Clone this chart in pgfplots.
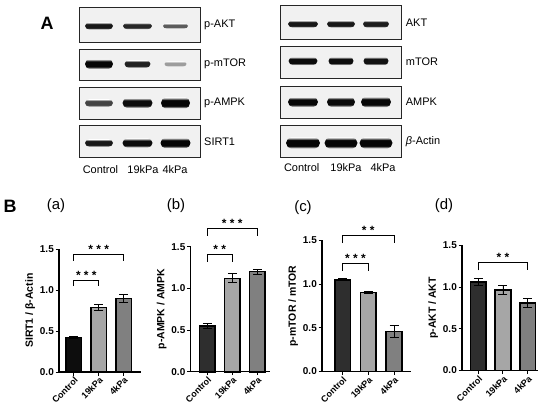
\documentclass[border=0pt]{standalone}
\usepackage{pgfplots}
\pgfplotsset{compat=1.18}
\usepackage{fontspec}
\setmainfont{Liberation Sans}
\definecolor{cblack}{HTML}{0D0D0D}
\definecolor{cdark}{HTML}{2E2E2E}
\definecolor{clight}{HTML}{A6A6A6}
\definecolor{cmid}{HTML}{808080}
\definecolor{bgcol}{HTML}{F1F1F1}
\colorlet{bandcol}{black}
\pgfdeclareverticalshading[bandcol,bgcol]{bandv}{100bp}{color(0bp)=(bgcol); color(25bp)=(bgcol); color(37bp)=(bandcol); color(63bp)=(bandcol); color(75bp)=(bgcol); color(100bp)=(bgcol)}

\pgfplotsset{
 barpanel/.style={
  scale only axis, anchor=south west, clip=false,
  axis x line=bottom, axis y line=left,
  axis line style={-, line width=1.2bp},
  ymin=0, ymax=1.5,
  ytick={0,0.5,1,1.5}, yticklabels={0.0,0.5,1.0,1.5},
  xtick={0,1,2}, xticklabels={Control,19kPa,4kPa},
  major tick length=3.5bp,
  every tick/.style={black, line width=1bp},
  tick align=outside,
  yticklabel style={font=\fontsize{10}{11}\bfseries\selectfont, inner sep=1.5bp},
  xticklabel style={font=\fontsize{9}{10}\bfseries\selectfont, rotate=45, anchor=north east, inner sep=0.5bp},
  ylabel style={font=\fontsize{10.5}{11}\bfseries\selectfont},
  ybar,
  every axis plot/.append style={bar shift=0pt, bar width=15.5bp, draw=black, line width=1.6bp,
    error bars/y dir=both, error bars/y explicit,
    error bars/error bar style={line width=0.9bp, black},
    error bars/error mark options={rotate=90, mark size=4.5bp, line width=0.9bp, black}},
 },
}
\tikzset{stars/.style={anchor=base, font=\fontsize{12}{13}\bfseries\selectfont, inner sep=0pt, yshift=0.8bp}}

\newcommand{\bracket}[4]{% x1, x2, top, leg
  \draw[line width=0.9bp] (axis cs:#1,#4) -- (axis cs:#1,#3) -- (axis cs:#2,#3) -- (axis cs:#2,#4);}

\begin{document}
\begin{tikzpicture}
\useasboundingbox (0,0) rectangle (550bp,410bp);

\begin{scope}[x=1bp, y=-1bp, shift={(0,410bp)}]
 % left blots
 \foreach \ya/\yb in {7.3/42.7, 49/80.7, 87.3/119, 125.3/157.3}
   \draw[line width=0.9bp, draw=black!85, fill=bgcol] (79.3,\ya) rectangle (200,\yb);
 % right blots
 \foreach \ya/\yb in {5/39.3, 46.7/78.3, 86/118.3, 125.7/157.7}
   \draw[line width=0.9bp, draw=black!85, fill=bgcol] (280,\ya) rectangle (401,\yb);
 % bands: x / y / half-width / half-height / intensity
 \foreach \x/\y/\w/\h/\i in {
   99/26/14/3.6/90, 137.5/26/14.5/3.3/84, 175.5/26/12.5/2.6/62,
   99/64/14/5/98, 137.5/64/13/3.8/86, 175.5/64/11/2.6/35,
   99/103/14/3.8/72, 137.5/103/15/5/95, 175.5/103/14.5/5.5/98,
   99/143/14/3.8/90, 137.5/143/15/4.6/95, 175.5/143/15/5.2/98,
   303/24/15/3.6/90, 341/24/14/3.6/90, 376/24/13/3.6/88,
   303/61/14.5/4.2/95, 341/61/12.5/4.2/94, 376/61/12.5/4.2/92,
   303/102/15/5/97, 341/102/14/5/96, 376/102/15/5.3/97,
   303/143/17/5.6/98, 341/143/16.5/5.6/98, 376/143/16.5/5.6/98} {
   \colorlet{bandcol}{black!\i!bgcol}
   \shade[shading=bandv] (\x-\w,\y) to[out=75,in=180] (\x-0.7*\w,\y-\h) -- (\x+0.7*\w,\y-\h)
      to[out=0,in=105] (\x+\w,\y) to[out=-105,in=0] (\x+0.7*\w,\y+\h) -- (\x-0.7*\w,\y+\h)
      to[out=180,in=-75] cycle;
 }
 \begin{scope}[font=\fontsize{11}{13}\selectfont]
  \node[anchor=west, inner sep=0pt] at (204,25) {p-AKT};
  \node[anchor=west, inner sep=0pt] at (204,64) {p-mTOR};
  \node[anchor=west, inner sep=0pt] at (204,103) {p-AMPK};
  \node[anchor=west, inner sep=0pt] at (204,142) {SIRT1};
  \node[anchor=west, inner sep=0pt] at (405.7,23) {AKT};
  \node[anchor=west, inner sep=0pt] at (405.7,62) {mTOR};
  \node[anchor=west, inner sep=0pt] at (405.7,102) {AMPK};
  \node[anchor=west, inner sep=0pt] at (405.7,142) {{\itshape β}-Actin};
  \node at (100.5,170) {Control};
  \node at (143,170) {19kPa};
  \node at (175,170) {4kPa};
  \node at (301.7,168) {Control};
  \node at (346,168) {19kPa};
  \node at (383,168) {4kPa};
 \end{scope}
 \node[font=\fontsize{18}{20}\bfseries\selectfont] at (47,23) {A};
 \node[font=\fontsize{18}{20}\bfseries\selectfont] at (10,206) {B};
 \node[font=\fontsize{15}{17}\selectfont] at (56,206) {(a)};
 \node[font=\fontsize{15}{17}\selectfont] at (176,206) {(b)};
 \node[font=\fontsize{15}{17}\selectfont] at (303,208) {(c)};
 \node[font=\fontsize{15}{17}\selectfont] at (444,206) {(d)};
\end{scope}

% (a)
\begin{axis}[barpanel, at={(59bp,38bp)}, width=82bp, height=122.7bp,
  xmin=-0.6, xmax=2.7, ylabel={SIRT1 / β-Actin}]
 \addplot[fill=cblack] coordinates {(0,0.42) +- (0,0.012)};
 \addplot[fill=clight] coordinates {(1,0.79) +- (0,0.04)};
 \addplot[fill=cmid] coordinates {(2,0.90) +- (0,0.05)};
 \bracket{0}{1}{1.12}{1.05}
 \node[stars] at (axis cs:0.5,1.12) {* * *};
 \bracket{0}{2}{1.44}{1.36}
 \node[stars] at (axis cs:1,1.44) {* * *};
\end{axis}

% (b)
\begin{axis}[barpanel, at={(190.5bp,38.3bp)}, width=79.5bp, height=125bp,
  xmin=-0.67, xmax=2.51, ylabel={p-AMPK / AMPK}]
 \addplot[fill=cdark] coordinates {(0,0.55) +- (0,0.03)};
 \addplot[fill=clight] coordinates {(1,1.12) +- (0,0.055)};
 \addplot[fill=cmid] coordinates {(2,1.20) +- (0,0.03)};
 \bracket{0}{1}{1.408}{1.32}
 \node[stars] at (axis cs:0.5,1.408) {* *};
 \bracket{0}{2}{1.72}{1.632}
 \node[stars] at (axis cs:1,1.72) {* * *};
\end{axis}

% (c)
\begin{axis}[barpanel, at={(322bp,38.5bp)}, width=89bp, height=131bp,
  xmin=-0.8, xmax=2.66, ylabel={p-mTOR / mTOR}]
 \addplot[fill=cdark] coordinates {(0,1.05) +- (0,0.012)};
 \addplot[fill=clight] coordinates {(1,0.905) +- (0,0.017)};
 \addplot[fill=cmid] coordinates {(2,0.46) +- (0,0.065)};
 \bracket{0}{1}{1.238}{1.154}
 \node[stars] at (axis cs:0.5,1.238) {* * *};
 \bracket{0}{2}{1.56}{1.47}
 \node[stars] at (axis cs:1,1.56) {* *};
\end{axis}

% (d)
\begin{axis}[barpanel, at={(462bp,39.5bp)}, width=76.3bp, height=125.2bp,
  xmin=-0.66, xmax=2.43, ylabel={p-AKT / AKT}]
 \addplot[fill=cdark] coordinates {(0,1.06) +- (0,0.045)};
 \addplot[fill=clight] coordinates {(1,0.965) +- (0,0.05)};
 \addplot[fill=cmid] coordinates {(2,0.81) +- (0,0.055)};
 \bracket{0}{2}{1.292}{1.2}
 \node[stars] at (axis cs:1,1.292) {* *};
\end{axis}
\end{tikzpicture}
\end{document}
